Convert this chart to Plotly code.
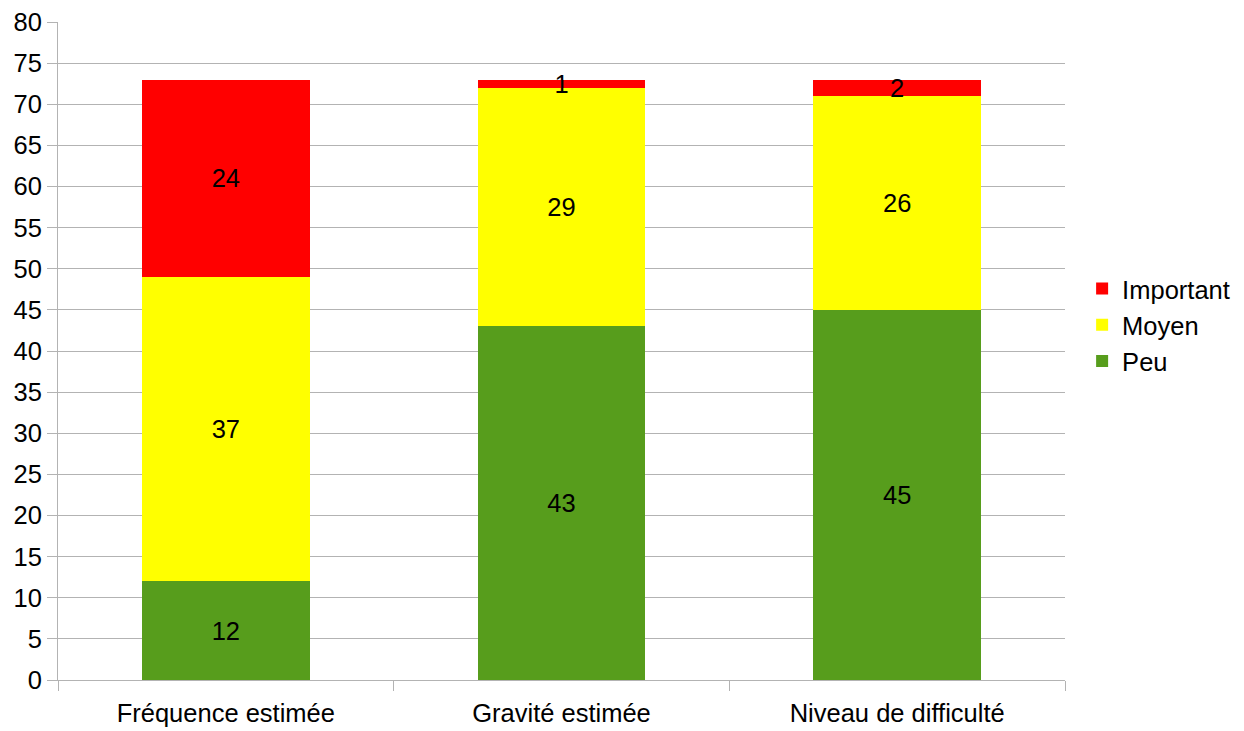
import plotly.graph_objects as go

categories = ["Fréquence estimée", "Gravité estimée", "Niveau de difficulté"]
peu = [12, 43, 45]
moyen = [37, 29, 26]
important = [24, 1, 2]

series = [
    ("Peu", peu, "#579D1C", 3),
    ("Moyen", moyen, "#FFFF00", 2),
    ("Important", important, "#FF0000", 1),
]

FONT = "Liberation Sans, Arial, sans-serif"
FS = 25.5
fig = go.Figure()
for name, vals, color, rank in series:
    fig.add_trace(go.Bar(
        name=name, x=categories, y=vals,
        marker=dict(color=color, line=dict(width=0)),
        width=0.5,
        text=[str(v) for v in vals],
        textposition="inside",
        insidetextanchor="middle",
        textangle=0,
        constraintext="none",
        textfont=dict(color="black", size=FS, family=FONT),
        legendgroup=name,
        legendrank=rank,
        hoverinfo="skip",
    ))

fig.update_layout(
    barmode="stack",
    width=1244, height=731,
    margin=dict(l=50, r=187, t=14, b=59, autoexpand=False),
    paper_bgcolor="white", plot_bgcolor="white",
    font=dict(family=FONT, size=FS, color="black"),
    legend=dict(
        x=1.017, xanchor="left", y=0.5395, yanchor="middle",
        traceorder="grouped", tracegroupgap=0,
        font=dict(size=FS, family=FONT, color="black"),
        bgcolor="rgba(0,0,0,0)",
    ),
    showlegend=True,
)
fig.update_yaxes(
    range=[0, 80], dtick=5, tick0=0,
    showgrid=True, gridcolor="#b3b3b3", gridwidth=1,
    ticks="outside", ticklen=10, tickcolor="#b3b3b3",
    showline=True, linecolor="#b3b3b3", linewidth=1,
    zeroline=False, automargin=False,
    ticklabeloverflow="allow",
    tickfont=dict(size=FS, family=FONT, color="black"),
)
fig.update_xaxes(
    showgrid=False,
    ticks="outside", ticklen=10, tickcolor="#b3b3b3",
    tickson="boundaries", automargin=False,
    ticklabelstandoff=10,
    showline=True, linecolor="#b3b3b3", linewidth=1,
    tickfont=dict(size=FS, family=FONT, color="black"),
)

fig.write_html("out.html")
